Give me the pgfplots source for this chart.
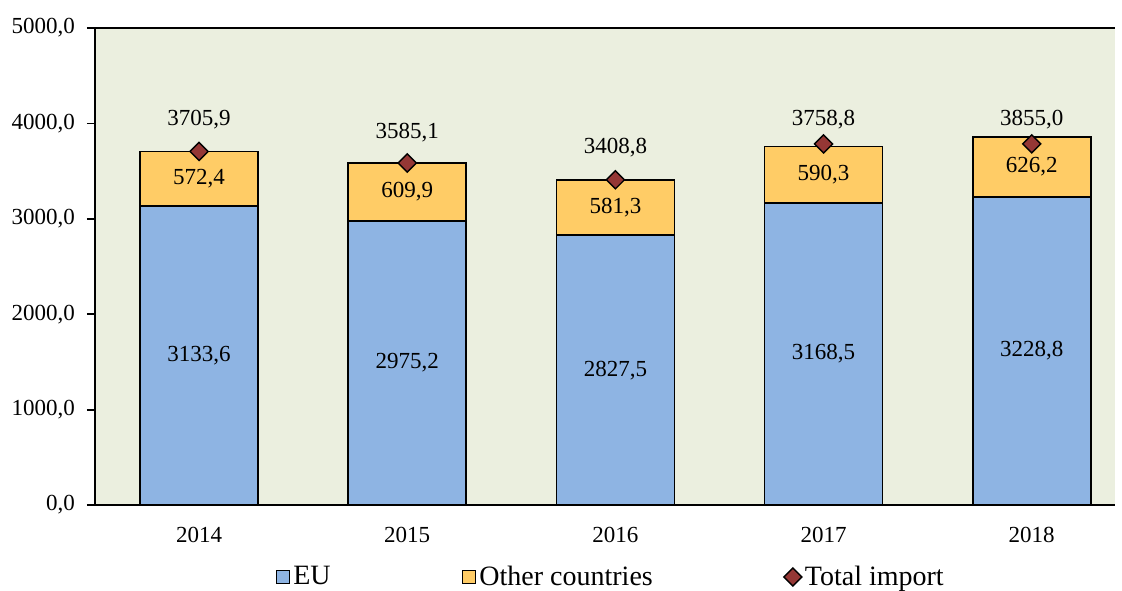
\documentclass[border=0pt]{standalone}
\usepackage{pgfplots}
\pgfplotsset{compat=1.18}
\usepackage{fontspec}
\setmainfont{Liberation Serif}
\definecolor{bg}{HTML}{EBEFDF}
\definecolor{eu}{HTML}{8EB4E3}
\definecolor{oth}{HTML}{FFCC66}
\definecolor{tot}{HTML}{953735}
\begin{document}
\fontsize{11.5}{13}\selectfont
\begin{tikzpicture}
\path[use as bounding box] (-47.5pt,-42.5pt) rectangle (513.5pt,252.5pt);
\pgfplotsset{base/.style={scale only axis, width=510pt, height=238.5pt,
  xmin=-0.5, xmax=4.4, ymin=0, ymax=5000}}
\begin{axis}[base, ybar stacked, bar width=59pt,
  axis background/.style={fill=bg},
  axis x line=box, axis y line=left,
  x axis line style={-}, y axis line style={-},
  axis line style={line width=0.9pt},
  xtick={0,1,2,3,4}, xticklabels={2014,2015,2016,2017,2018},
  x tick style={draw=none},
  xticklabel style={yshift=-3pt},
  ytick={0,1000,2000,3000,4000,5000},
  ytick pos=left, tick align=outside, major tick length=4pt,
  y tick style={line width=0.9pt, black},
  yticklabel style={xshift=-2pt},
  /pgf/number format/assume math mode=true,
  yticklabel={\pgfmathprintnumber[fixed, fixed zerofill, precision=1, use comma, 1000 sep={}]{\tick}},
  ]
\addplot[fill=eu, draw=black, line width=0.9pt] coordinates {(0,3133.6) (1,2975.2) (2,2827.5) (3,3168.5) (4,3228.8)};
\addplot[fill=oth, draw=black, line width=0.9pt] coordinates {(0,572.4) (1,609.9) (2,581.3) (3,590.3) (4,626.2)};
\end{axis}
\begin{axis}[base, hide axis,
  legend columns=3,
  legend style={draw=none, fill=none, at={(0.506,-0.151)}, anchor=center,
    /tikz/every even column/.append style={column sep=64pt}, font=\fontsize{14}{16}\selectfont,
    nodes={inner sep=1.5pt}},
  ]
\addlegendimage{legend image code/.code={\draw[fill=eu,draw=black,line width=0.9pt] (0pt,-3.25pt) rectangle (6.5pt,3.25pt);}}
\addlegendentry{EU}
\addlegendimage{legend image code/.code={\draw[fill=oth,draw=black,line width=0.9pt] (0pt,-3.25pt) rectangle (6.5pt,3.25pt);}}
\addlegendentry{Other countries}
\addplot[only marks, mark=square*, mark size=3.2pt, mark options={rotate=45, fill=tot, draw=black, line width=0.7pt}]
  coordinates {(0,3706) (1,3585) (2,3409) (3,3785) (4,3785)};
\addlegendentry{Total import}
\addplot[only marks, mark=none, nodes near coords, point meta=explicit symbolic,
  every node near coord/.append style={anchor=center, yshift=0pt, inner sep=0pt}] table[meta=lab] {
x y lab
0 1566.8 3133,6
1 1487.6 2975,2
2 1413.8 2827,5
3 1584.3 3168,5
4 1614.4 3228,8
0 3419.8 572,4
1 3280.2 609,9
2 3118.2 581,3
3 3463.7 590,3
4 3541.9 626,2
0 4036 3705,9
1 3905 3585,1
2 3747 3408,8
3 4040 3758,8
4 4040 3855,0
};
\end{axis}
\end{tikzpicture}
\end{document}
